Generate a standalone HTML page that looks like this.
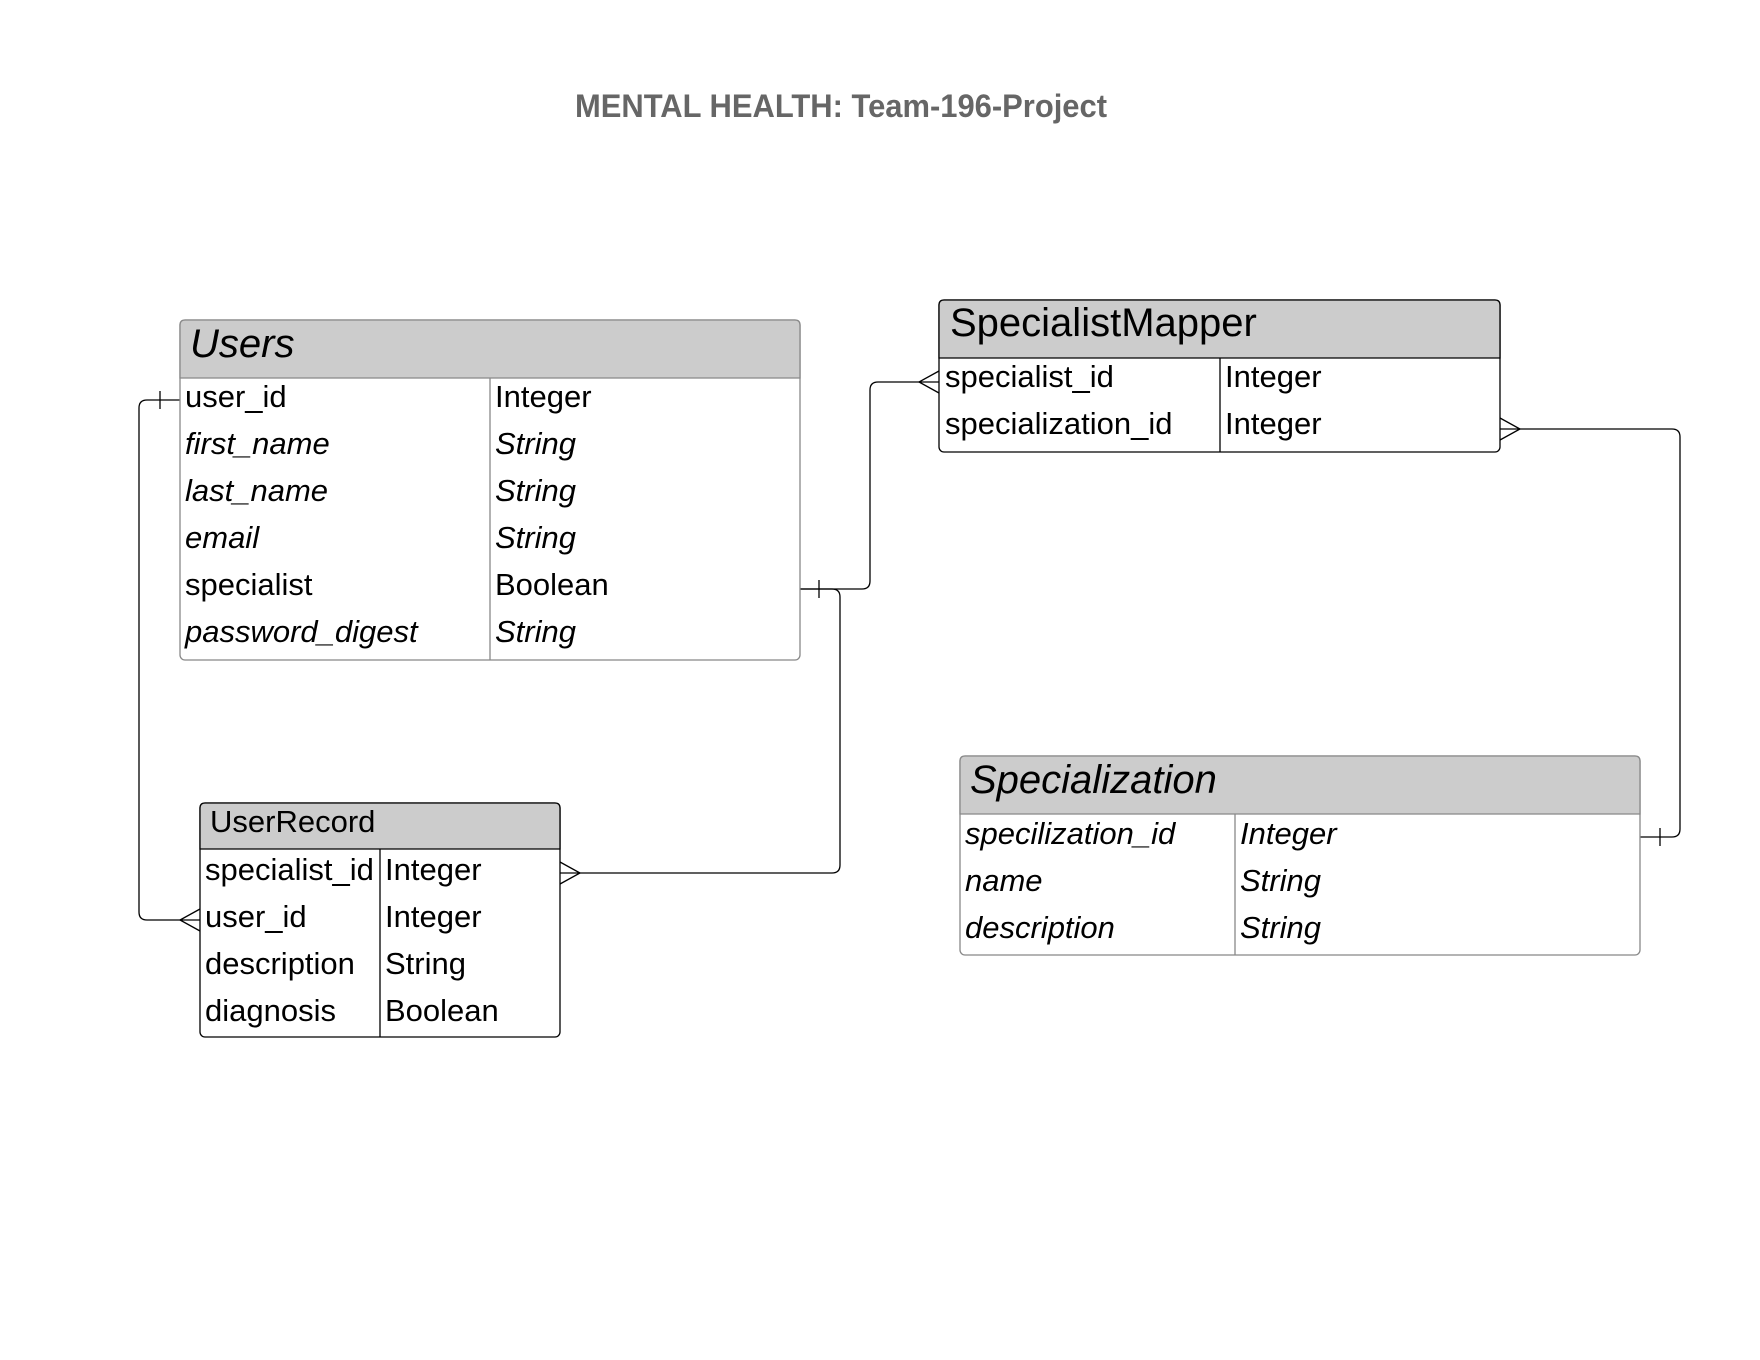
<!DOCTYPE html>
<html><head><meta charset="utf-8"><style>
html,body{margin:0;padding:0;background:#fff;}
svg{display:block;}
text{font-family:"Liberation Sans",Arial,sans-serif;fill:#000;}
.it{font-style:italic;}
</style></head><body>
<svg width="1760" height="1360" viewBox="0 0 1760 1360" xmlns="http://www.w3.org/2000/svg">
<text x="575" y="117" font-size="32" font-weight="bold" style="fill:#666" textLength="532" lengthAdjust="spacingAndGlyphs">MENTAL HEALTH: Team-196-Project</text>

<g fill="none" stroke="#000" stroke-width="1.3">
<path d="M180 400 H147 Q139 400 139 408 V912 Q139 920 147 920 H200"/>
<path d="M160 391 V409"/>
<path d="M200 909 L180 920 L200 931"/>
<path d="M800 589 H862 Q870 589 870 581 V390 Q870 382 878 382 H939"/>
<path d="M800 589 H832 Q840 589 840 597 V865 Q840 873 832 873 H560"/>
<path d="M819 580 V598"/>
<path d="M939 371 L919 382 L939 393"/>
<path d="M560 862 L580 873 L560 884"/>
<path d="M1500 429 H1672 Q1680 429 1680 437 V829 Q1680 837 1672 837 H1640"/>
<path d="M1500 418 L1520 429 L1500 440"/>
<path d="M1660 828 V846"/>
</g>

<rect x="180" y="320" width="620" height="340" rx="5" fill="#fff" stroke="#888" stroke-width="1.3"/>
<path d="M185 320 H795 Q800 320 800 325 V378 H180 V325 Q180 320 185 320Z" fill="#ccc" stroke="#888" stroke-width="1.3"/>
<line x1="490" y1="378" x2="490" y2="660" stroke="#888" stroke-width="1.3"/>
<text x="190" y="357" font-size="40" class="it">Users</text>
<g font-size="31">
<text x="185" y="407">user_id</text><text x="495" y="407">Integer</text>
<text x="185" y="454" class="it">first_name</text><text x="495" y="454" class="it">String</text>
<text x="185" y="501" class="it">last_name</text><text x="495" y="501" class="it">String</text>
<text x="185" y="548" class="it">email</text><text x="495" y="548" class="it">String</text>
<text x="185" y="595">specialist</text><text x="495" y="595">Boolean</text>
<text x="185" y="642" class="it">password_digest</text><text x="495" y="642" class="it">String</text>
</g>

<rect x="939" y="300" width="561" height="152" rx="5" fill="#fff" stroke="#000" stroke-width="1.3"/>
<path d="M944 300 H1495 Q1500 300 1500 305 V358 H939 V305 Q939 300 944 300Z" fill="#ccc" stroke="#000" stroke-width="1.3"/>
<line x1="1220" y1="358" x2="1220" y2="452" stroke="#000" stroke-width="1.3"/>
<text x="950" y="336" font-size="40">SpecialistMapper</text>
<g font-size="31">
<text x="945" y="387">specialist_id</text><text x="1225" y="387">Integer</text>
<text x="945" y="434">specialization_id</text><text x="1225" y="434">Integer</text>
</g>

<rect x="960" y="756" width="680" height="199" rx="5" fill="#fff" stroke="#888" stroke-width="1.3"/>
<path d="M965 756 H1635 Q1640 756 1640 761 V814 H960 V761 Q960 756 965 756Z" fill="#ccc" stroke="#888" stroke-width="1.3"/>
<line x1="1235" y1="814" x2="1235" y2="955" stroke="#888" stroke-width="1.3"/>
<text x="970" y="793" font-size="40" class="it">Specialization</text>
<g font-size="31" class="it">
<text x="965" y="844">specilization_id</text><text x="1240" y="844">Integer</text>
<text x="965" y="891">name</text><text x="1240" y="891">String</text>
<text x="965" y="938">description</text><text x="1240" y="938">String</text>
</g>

<rect x="200" y="803" width="360" height="234" rx="5" fill="#fff" stroke="#000" stroke-width="1.3"/>
<path d="M205 803 H555 Q560 803 560 808 V849 H200 V808 Q200 803 205 803Z" fill="#ccc" stroke="#000" stroke-width="1.3"/>
<line x1="380" y1="849" x2="380" y2="1037" stroke="#000" stroke-width="1.3"/>
<text x="210" y="832" font-size="31">UserRecord</text>
<g font-size="31">
<text x="205" y="880">specialist_id</text><text x="385" y="880">Integer</text>
<text x="205" y="927">user_id</text><text x="385" y="927">Integer</text>
<text x="205" y="974">description</text><text x="385" y="974">String</text>
<text x="205" y="1021">diagnosis</text><text x="385" y="1021">Boolean</text>
</g>
</svg>
</body></html>
